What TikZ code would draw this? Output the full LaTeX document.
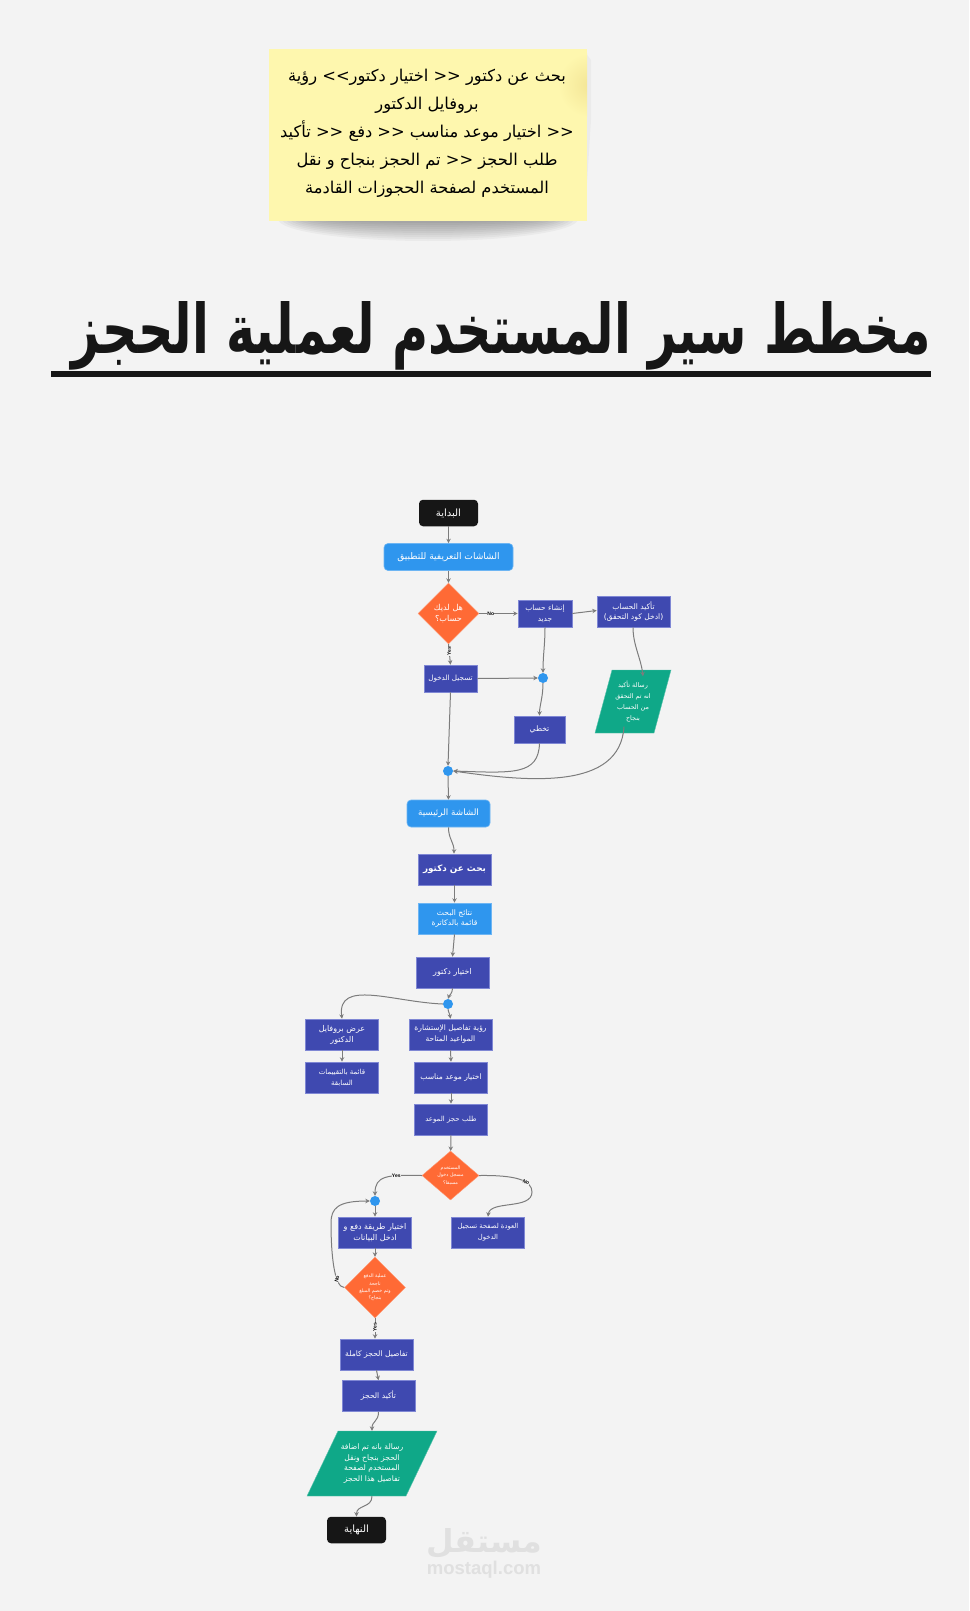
\documentclass[tikz,border=0pt]{standalone}
\usepackage{fontspec}
\usetikzlibrary{shapes.geometric,arrows.meta}
\TeXXeTstate=1
\setmainfont{Liberation Sans}
\newfontfamily\arfont[Script=Arabic]{DejaVu Sans}
\newcommand\rl[1]{\beginR #1\endR}
\definecolor{bgc}{HTML}{F3F3F3}
\definecolor{indigoc}{HTML}{3F49B0}
\definecolor{indigol}{HTML}{7F87D4}
\definecolor{bluec}{HTML}{2F96EE}
\definecolor{orangec}{HTML}{FF6A35}
\definecolor{greenc}{HTML}{0FA888}
\definecolor{blackc}{HTML}{161616}
\definecolor{stickyc}{HTML}{FEF7AE}
\definecolor{stickyd}{HTML}{F3E596}
\definecolor{linec}{HTML}{7C7C7C}
\tikzset{
  fs/.style={font=\arfont\fontsize{#1}{10.9}\selectfont},
  txt/.style={align=center,text=white,inner sep=0pt,fs=7.6},
  box/.style={txt,rectangle,fill=indigoc,draw=indigol,line width=.6pt,minimum width=73pt,minimum height=31pt},
  sbox/.style={box,minimum width=53pt,minimum height=27pt},
  lightbox/.style={box,fill=bluec,draw=bluec!70!white},
  roundbox/.style={txt,rectangle,rounded corners=4pt,fill=bluec,draw=bluec!70!white,line width=.6pt,minimum height=27pt},
  term/.style={txt,rectangle,rounded corners=4pt,fill=blackc,minimum width=59pt,minimum height=26.5pt,fs=10},
  dec/.style={txt,diamond,aspect=1,fill=orangec,draw=orangec!70!white,line width=.4pt,minimum width=61pt,minimum height=61pt},
  tinydec/.style={font=\arfont\fontsize{4.8}{7.4}\selectfont},
  dot/.style={circle,fill=bluec,minimum size=10pt,inner sep=0pt},
  paratxt/.style={txt,rectangle,minimum width=60pt,minimum height=50pt},
  para/.style={fill=greenc,draw=greenc!70!white,line width=.4pt},
  conn/.style={draw=linec,line width=1pt,-{Stealth[length=4.5pt,width=4.5pt]}},
  lab/.style={font=\bfseries\fontsize{5}{5}\selectfont,text=black,fill=bgc,inner sep=.4pt},
}
\begin{document}
\begin{tikzpicture}[x=1pt,y=-1pt]
\useasboundingbox[fill=bgc] (0,0) rectangle (969,1611);
% sticky shadow
\foreach \r/\h in {150/22,146/20,142/18,138/16,134/14,130/12,124/10,118/8,110/6,100/4}{
  \fill[black,opacity=.035] (428,219) ellipse [x radius=\r pt,y radius=\h pt];
}
\fill[black,opacity=.03] (585,52) -- (591,60) -- (591,120) -- (585,215) -- cycle;
\fill[stickyc] (269,49) rectangle (587,221);
\begin{scope}
  \clip (269,49) rectangle (587,221);
  \shade[inner color=stickyd,outer color=stickyc] (590,85) circle [radius=32pt];
\end{scope}
\node[align=center,inner sep=0pt,text=black,font=\arfont\fontsize{16.3}{28}\selectfont] (sticky) at (427,133) {%
  \rl{بحث عن دكتور << اختيار دكتور>> رؤية}\\
  \rl{بروفايل الدكتور}\\
  \rl{<< اختيار موعد مناسب << دفع << تأكيد}\\
  \rl{طلب الحجز << تم الحجز بنجاح و نقل}\\
  \rl{المستخدم لصفحة الحجوزات القادمة}};
% title
\node[inner sep=0pt,text=blackc,anchor=base] (title) at (501.5,353) {\resizebox{859pt}{52pt}{\arfont\bfseries\rl{مخطط سير المستخدم لعملية الحجز}}};
\fill[blackc] (51,371) rectangle (931,377);
% parallelograms
\fill[para] (612,670) -- (671,670) -- (654,733) -- (595,733) -- cycle;
\fill[para] (338,1431) -- (437,1431) -- (406,1496) -- (307,1496) -- cycle;
% nodes
\node[term] (start) at (448.5,513) {\rl{البداية}};
\node[roundbox,minimum width=129pt,fs=9.1] (intro) at (448.5,557) {\rl{الشاشات التعريفية للتطبيق}};
\node[dec,fs=8.2] (d1) at (448.5,613.5) {\rl{هل لديك}\\\rl{حساب؟}};
\node[sbox,minimum width=54pt,fs=7.4] (create) at (545,613.5) {\rl{إنشاء حساب}\\\rl{جديد}};
\node[box] (verify) at (633.5,611.5) {\rl{تأكيد الحساب}\\\rl{(ادخل كود التحقق)}};
\node[sbox,fs=7.2] (login) at (450.5,678.5) {\rl{تسجيل الدخول}};
\node[dot] (j1) at (543,678) {};
\node[sbox,minimum width=51pt] (skip) at (539.5,729.5) {\rl{تخطي}};
\node[paratxt,fs=6.4] (p1) at (633,701.5) {\rl{رسالة تأكيد}\\\rl{انه تم التحقق}\\\rl{من الحساب}\\\rl{بنجاح}};
\node[dot] (j2) at (448,771) {};
\node[roundbox,minimum width=83pt,fs=8.8] (home) at (448.5,813.5) {\rl{الشاشة الرئيسية}};
\node[box,font=\arfont\bfseries\fontsize{8.8}{10}\selectfont] (search) at (454.5,869.5) {\rl{بحث عن دكتور}};
\node[lightbox] (results) at (454.5,918.5) {\rl{نتائج البحث}\\\rl{قائمة بالدكاترة}};
\node[box,fs=8] (choose) at (452.5,972.5) {\rl{اختيار دكتور}};
\node[dot] (j3) at (448,1004) {};
\node[box,fs=8] (profile) at (342,1034.5) {\rl{عرض بروفايل}\\\rl{الدكتور}};
\node[box,fs=7] (reviews) at (342,1077.5) {\rl{قائمة بالتقييمات}\\\rl{السابقة}};
\node[box,minimum width=83pt,fs=7.5] (details) at (450.5,1034.5) {\rl{رؤية تفاصيل الإستشارة}\\\rl{المواعيد المتاحة}};
\node[box] (slot) at (451,1077.5) {\rl{اختيار موعد مناسب}};
\node[box,fs=7] (request) at (451,1119.5) {\rl{طلب حجز الموعد}};
\node[dec,aspect=1.16,minimum width=57pt,minimum height=49pt,tinydec] (d2) at (450.5,1175.5) {\rl{المستخدم}\\\rl{مسجل دخول}\\\rl{مسبقا؟}};
\node[dot] (j4) at (375,1201) {};
\node[box,fs=8] (pay) at (375,1232.5) {\rl{اختيار طريقة دفع و}\\\rl{ادخل البيانات}};
\node[box,fs=6.8] (back) at (488,1232.5) {\rl{العودة لصفحة تسجيل}\\\rl{الدخول}};
\node[dec,tinydec] (d3) at (375,1287.5) {\rl{عملية الدفع}\\\rl{ناجحة}\\\rl{وتم خصم المبلغ}\\\rl{بنجاح؟}};
\node[box] (full) at (376.5,1354.5) {\rl{تفاصيل الحجز كاملة}};
\node[box] (confirm) at (378.5,1396) {\rl{تأكيد الحجز}};
\node[paratxt,minimum width=100pt,minimum height=65pt] (p2) at (372,1463.5) {\rl{رسالة بانه تم اضافة}\\\rl{الحجز بنجاح ونقل}\\\rl{المستخدم لصفحة}\\\rl{تفاصيل هذا الحجز}};
\node[term] (finish) at (356.5,1530) {\rl{النهاية}};
% connectors
\path[conn] (start) -- (intro);
\path[conn] (intro) -- (d1);
\path[conn] (d1.east) -- node[lab,pos=.3] (l1) {No} (create.west);
\path[conn] (create.east) -- ([yshift=1pt]verify.west);
\path[conn] (d1.south) -- node[lab,rotate=90,pos=.35] (l2) {Yes} (login.north);
\path[conn] (login.east) -- (j1.west);
\path[conn] (create.south) .. controls +(0,18) and +(0,-18) .. (j1.north);
\path[conn] (j1.south) .. controls +(0,14) and +(0,-10) .. (skip.north);
\path[conn] ([xshift=-0.5pt]verify.south) .. controls +(0,18) and +(-2,-18) .. ([xshift=10pt]p1.north);
\path[conn] ([xshift=-9pt]p1.south) .. controls (620,790) and (530,782) .. (j2.east);
\path[conn] (skip.south) .. controls +(-1,32) and +(60,2) .. (j2.east);
\path[conn] (login.south) -- (j2.north);
\path[conn] (j2.south) -- (home.north);
\path[conn] (home.south) .. controls +(0,12) and +(0,-12) .. ([xshift=-.5pt]search.north);
\path[conn] (search) -- (results);
\path[conn] (results.south) -- (choose.north);
\path[conn] (choose.south) .. controls +(0,5) and +(1,-3) .. (j3.north);
\path[conn] (j3.south) .. controls +(1,5) and +(-1,-6) .. (details.north);
\path[conn] (j3.west) .. controls +(-50,-2) and +(-5,-40) .. (profile.north);
\path[conn] (profile) -- (reviews);
\path[conn] (details.south) -- (slot.north);
\path[conn] (slot) -- (request);
\path[conn] (request) -- (d2);
\path[conn] (d2.west) .. controls +(-35,-1) and +(0,-20) .. node[lab,pos=.3] (l3) {Yes} (j4.north);
\path[conn] (d2.east) .. controls (515,1175) and (532,1180) .. (532,1192) .. controls (532,1210) and (490,1200) .. (back.north);
\node[lab,rotate=-25] (l4) at (526,1182) {No};
\path[conn] (j4) -- (pay);
\path[conn] (pay) -- (d3);
\path[conn] (d3.south) -- node[lab,rotate=90,pos=.45] (l5) {Yes} ([xshift=-1.5pt]full.north);
\path[conn] (d3.west) .. controls +(-10,0) and (331,1255) .. (331,1223) .. controls (331,1208) and (338,1201) .. (j4.west);
\node[lab,rotate=75] (l6) at (337,1279) {No};
\path[conn] (full.south) -- (confirm.north);
\path[conn] (confirm.south) .. controls +(0,10) and +(0,-10) .. (p2.north);
\path[conn] (p2.south) .. controls +(0,12) and +(0,-12) .. (finish.north);
% watermark
\node[inner sep=0pt,text=black!12,anchor=base] (wm) at (484,1552) {\resizebox{116pt}{24pt}{\arfont\bfseries\rl{مستقل}}};
\node[inner sep=0pt,text=black!12,font=\bfseries\fontsize{18.5}{20}\selectfont] (wm2) at (484,1569.5) {mostaql.com};
\end{tikzpicture}
\end{document}
